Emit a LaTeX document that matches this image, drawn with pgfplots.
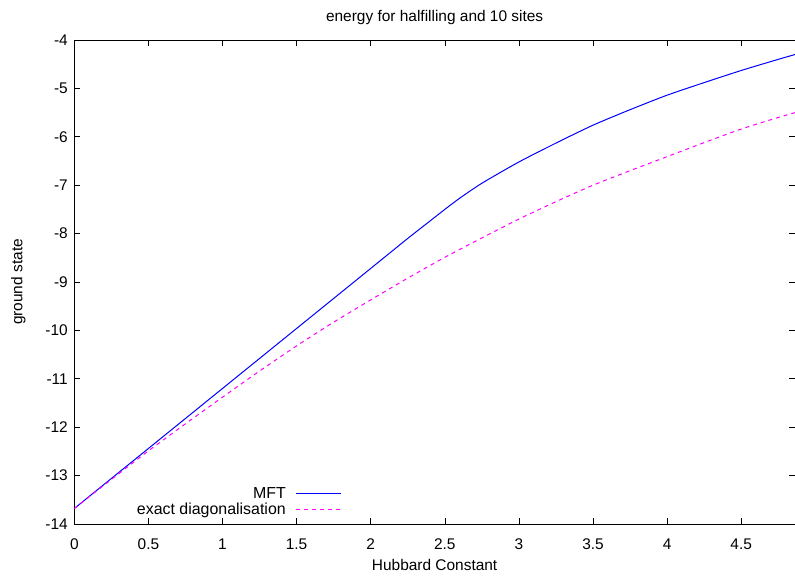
\documentclass[border=0pt]{standalone}
\usepackage{fontspec}
\setmainfont{Liberation Sans}
\usepackage{pgfplots}
\pgfplotsset{compat=1.18}
\definecolor{mftblue}{RGB}{0,0,255}
\definecolor{exmag}{RGB}{255,0,255}

\begin{document}
\begin{tikzpicture}
\begin{axis}[
  scale only axis,
  width=720.7bp, height=484bp,
  xmin=0, xmax=4.863,
  ymin=-14, ymax=-4,
  xtick={0,0.5,...,4.5},
  ytick={-14,-13,...,-4},
  tick align=inside,
  major tick length=6bp,
  tick style={black, line width=0.6bp},
  axis line style={line width=0.8bp},
  /pgf/number format/assume math mode=true,
  font=\fontsize{15.5}{18}\selectfont,
  tick label style={font=\fontsize{15.5}{18}\selectfont},
  xticklabel style={yshift=-11bp},
  yticklabel style={xshift=-3bp},
  title={energy for halfilling and 10 sites},
  title style={at={(axis description cs:0.5,1)}, anchor=center, yshift=17bp},
  xlabel={Hubbard Constant},
  ylabel={ground state},
  xlabel style={at={(axis description cs:0.5,0)}, anchor=center, yshift=-41bp},
  ylabel style={at={(axis description cs:0,0.5)}, anchor=center, yshift=56bp},
  legend style={at={(0.3756,0.0075)}, anchor=south east, draw=none, fill=none,
    font=\fontsize{16}{18}\selectfont, row sep=-1bp, column sep=8bp},
  legend cell align=right,
  legend plot pos=right,
  legend image code/.code={\draw[#1] (0bp,0bp) -- (45bp,0bp);},
]
\addplot[draw=mftblue, line width=1bp, smooth, tension=0.4, forget plot] coordinates {
  (0,-13.68) (0.25,-13.06) (0.5,-12.44) (0.75,-11.82) (1.0,-11.20)
  (1.25,-10.58) (1.5,-9.96) (1.75,-9.34) (2.0,-8.72) (2.25,-8.10)
  (2.4,-7.74) (2.5,-7.50) (2.6,-7.27) (2.75,-6.96) (3.0,-6.52)
  (3.25,-6.13) (3.5,-5.76) (3.75,-5.44) (4.0,-5.14) (4.25,-4.88)
  (4.5,-4.63) (4.75,-4.40) (4.863,-4.30)
};
\addplot[draw=exmag, line width=1bp, dash pattern=on 4bp off 4bp, smooth, tension=0.4, forget plot] coordinates {
  (0,-13.68) (0.25,-13.08) (0.5,-12.49) (0.75,-11.93) (1.0,-11.38)
  (1.25,-10.84) (1.5,-10.32) (1.75,-9.83) (2.0,-9.37) (2.25,-8.92)
  (2.5,-8.49) (2.75,-8.09) (3.0,-7.70) (3.25,-7.34) (3.5,-7.00)
  (3.75,-6.70) (4.0,-6.41) (4.25,-6.12) (4.5,-5.84) (4.75,-5.60)
  (4.863,-5.50)
};
\addlegendimage{draw=mftblue, line width=1bp}
\addlegendentry{MFT}
\addlegendimage{draw=exmag, line width=1bp, dash pattern=on 4bp off 4bp}
\addlegendentry{exact diagonalisation}
\end{axis}
\path (current axis.south west) ++(-74.3bp,-52bp) coordinate (bl);
\path (current axis.north east) ++(0bp,40bp) coordinate (tr);
\pgfresetboundingbox
\path (bl) rectangle (tr);
\end{tikzpicture}
\end{document}
